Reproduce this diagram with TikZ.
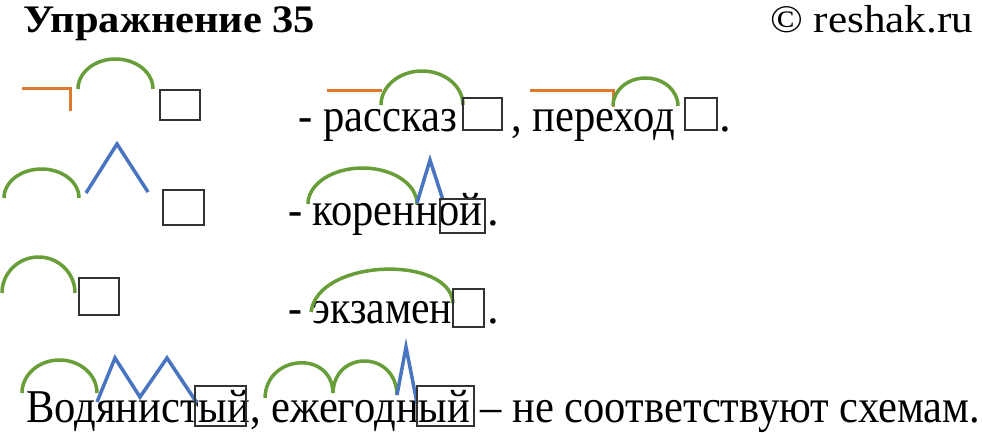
\documentclass[tikz,border=0pt]{standalone}
\usepackage{fontspec}
\setmainfont{Liberation Serif}
\usepackage{graphicx}
\definecolor{rootgreen}{RGB}{104,158,56}
\definecolor{sufblue}{RGB}{72,116,192}
\definecolor{preforange}{RGB}{222,122,48}
\definecolor{boxgray}{RGB}{50,50,50}
\begin{document}
\begin{tikzpicture}[x=1pt,y=-1pt,
  root/.style={draw=rootgreen,line width=3.5pt},
  suf/.style={draw=sufblue,line width=3.5pt,line join=miter},
  pref/.style={draw=preforange,line width=3pt},
  endbox/.style={draw=boxgray,line width=2pt},
  txt/.style={anchor=base west,inner sep=0pt,font=\fontsize{47}{50}\selectfont},
  ttl/.style={anchor=base west,inner sep=0pt,font=\fontsize{39}{44}\selectfont\bfseries},
  cpy/.style={anchor=base west,inner sep=0pt,font=\fontsize{39}{44}\selectfont}]
\useasboundingbox (0,0) rectangle (982,432);
\fill[white] (0,0) rectangle (982,432);

% title
\node[ttl] (title) at (23,32) {\resizebox{292pt}{\height}{Упражнение 35}};
\node[cpy] (copy) at (770,32) {\resizebox{203pt}{\height}{© reshak.ru}};

% row 1 schema
\draw[pref] (22,88) -- (70,88) -- (70,111);
\draw[root] (78,89) arc[start angle=180,end angle=360,x radius=37.5,y radius=30];
\draw[endbox] (160,90) rectangle (200,120);

% row 1 words
\node[txt] (w1a) at (298,131) {\resizebox{159pt}{\height}{- рассказ}};
\node[txt] (w1b) at (511,131) {\resizebox{164pt}{\height}{, переход}};
\node[txt] (w1c) at (719,131) {.};
\draw[pref] (327,90) -- (382,90);
\draw[root] (381,105) arc[start angle=180,end angle=360,x radius=41,y radius=34];
\draw[endbox] (463,98) rectangle (502,130);
\draw[pref] (530,90) -- (613,90) -- (613,107);
\draw[root] (613,106) arc[start angle=180,end angle=360,x radius=32.5,y radius=28];
\draw[endbox] (685,98) rectangle (717,130);

% row 2 schema
\draw[root] (4,198) arc[start angle=180,end angle=360,x radius=37.5,y radius=29];
\draw[suf] (86,193) -- (117,144) -- (148,192);
\draw[endbox] (163,190) rectangle (204,225);

% row 2 word
\node[txt] (w2) at (288,225) {\resizebox{194pt}{\height}{- коренной}};
\node[txt] (w2p) at (487,225) {.};
\draw[root] (308,204) arc[start angle=180,end angle=360,x radius=54.5,y radius=36];
\draw[suf] (417,203) -- (430,160) -- (443,200);
\draw[endbox] (440,199) rectangle (485,233);

% row 3 schema
\draw[root] (2,293) arc[start angle=180,end angle=360,x radius=36.5,y radius=36];
\draw[endbox] (79,278) rectangle (119,315);

% row 3 word
\node[txt] (w3) at (288,323) {\resizebox{164pt}{\height}{- экзамен}};
\node[txt] (w3p) at (487,323) {.};
\draw[root] (311,312) .. controls (318,258) and (450,255) .. (453,303);
\draw[endbox] (453,289) rectangle (484,327);

% row 4
\node[txt] (w4) at (26,422) {\resizebox{954pt}{\height}{Водянистый, ежегодный – не соответствуют схемам.}};
\draw[root] (22,393) arc[start angle=180,end angle=360,x radius=37.5,y radius=33];
\draw[suf] (97,402) -- (115,358) -- (140,397) -- (167,358) -- (197,403);
\draw[endbox] (195,386) rectangle (246,426);
\draw[root] (265,398) .. controls (266,354) and (332,350) .. (333,393);
\draw[root] (333,393) .. controls (334,350) and (396,350) .. (397,395);
\draw[suf] (397,395) -- (406,347) -- (417,403);
\draw[endbox] (417,386) rectangle (474,426);
\end{tikzpicture}
\end{document}
